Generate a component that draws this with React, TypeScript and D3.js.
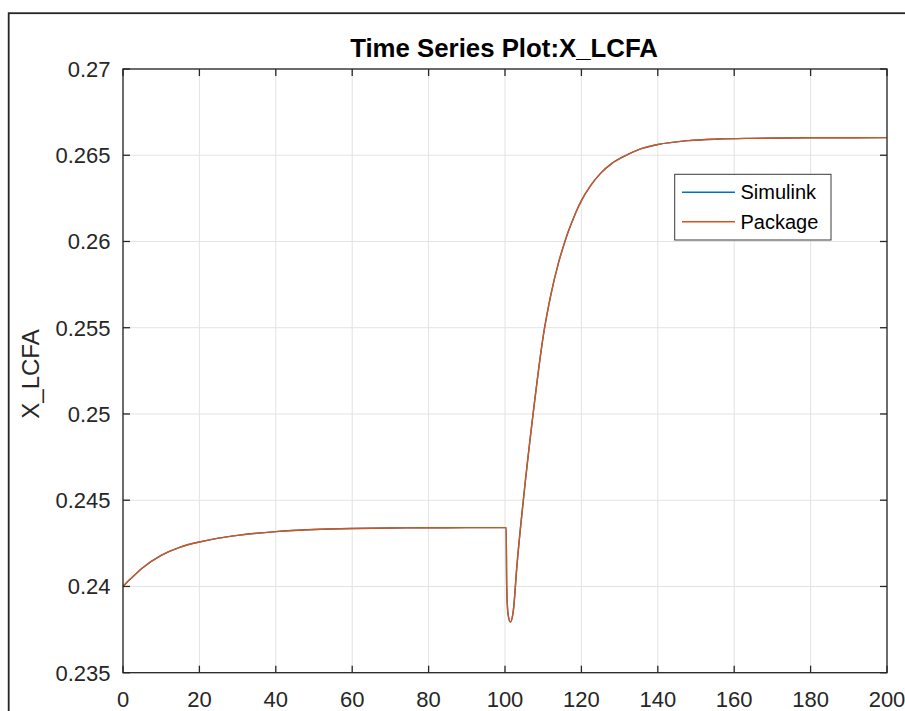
import React from "react";
import * as d3 from "d3";

// Time samples (s) and the two simulated responses of X_LCFA
const timeSeconds = [
  0, 2, 5, 10, 15, 20, 25, 30, 40, 50, 60, 70, 80, 90, 100, 100.3, 100.45, 100.8,
  101.4, 102.2, 103.1, 104.8, 107.3, 110, 112, 114, 115.4, 116.5, 118, 119, 120,
  122.5, 125, 128, 131, 135, 140, 148, 156, 164, 180, 200,
];
const simulinkValues = [
  0.24, 0.24044, 0.24106, 0.2418, 0.24228, 0.24258, 0.2428, 0.24296, 0.24318,
  0.2433, 0.24336, 0.24339, 0.2434, 0.24341, 0.24341, 0.24341, 0.24, 0.2384,
  0.23794, 0.23863, 0.24115, 0.245, 0.2499, 0.2545, 0.2569, 0.25876, 0.2598,
  0.26053, 0.26139, 0.26191, 0.26237, 0.26327, 0.26395, 0.26453, 0.26492,
  0.26533, 0.26562, 0.26585, 0.26594, 0.26598, 0.26601, 0.26602,
];
const packageValues = [
  0.24, 0.24044, 0.24106, 0.2418, 0.24228, 0.24258, 0.2428, 0.24296, 0.24318,
  0.2433, 0.24336, 0.24339, 0.2434, 0.24341, 0.24341, 0.24341, 0.24, 0.2384,
  0.23794, 0.23863, 0.24115, 0.245, 0.2499, 0.2545, 0.2569, 0.25876, 0.2598,
  0.26053, 0.26139, 0.26191, 0.26237, 0.26327, 0.26395, 0.26453, 0.26492,
  0.26533, 0.26562, 0.26585, 0.26594, 0.26598, 0.26601, 0.26602,
];

const xTicks = [0, 20, 40, 60, 80, 100, 120, 140, 160, 180, 200];
const yTicks = [0.235, 0.24, 0.245, 0.25, 0.255, 0.26, 0.265, 0.27];
const seriesNames = ["Simulink", "Package"];
const seriesColors = ["#0072BD", "#D95319"];

const W = 905;
const H = 711;
const plot = { left: 123, right: 887, top: 69, bottom: 672.7 };
const axisColor = "#262626";
const gridColor = "#e3e3e3";
const font = "'Liberation Sans', Arial, Helvetica, sans-serif";
const tickLen = 7;

export default function App() {
  const x = d3.scaleLinear().domain([0, 200]).range([plot.left, plot.right]);
  const y = d3.scaleLinear().domain([0.235, 0.27]).range([plot.bottom, plot.top]);

  const makeLine = (vals: number[]) =>
    d3
      .line<number>()
      .x((_, i) => x(timeSeconds[i]))
      .y((v) => y(v))
      .curve(d3.curveMonotoneX)(vals) as string;

  const series = [simulinkValues, packageValues];

  const legend = { x: 674.7, y: 174.3, w: 156.3, h: 65.7 };

  return (
    <svg
      width={W}
      height={H}
      style={{ position: "fixed", left: 0, top: 0, background: "#fff" }}
      fontFamily={font}
    >
      <rect x={0} y={0} width={W} height={H} fill="#fff" />
      {/* figure frame */}
      <rect x={8.7} y={13.2} width={1200} height={1200} fill="none" stroke={axisColor} strokeWidth={1.8} />

      {/* grid */}
      {xTicks.map((t) => (
        <line key={"gx" + t} x1={x(t)} x2={x(t)} y1={plot.top} y2={plot.bottom} stroke={gridColor} strokeWidth={1} />
      ))}
      {yTicks.map((t) => (
        <line key={"gy" + t} x1={plot.left} x2={plot.right} y1={y(t)} y2={y(t)} stroke={gridColor} strokeWidth={1} />
      ))}

      {/* data */}
      {series.map((vals, i) => (
        <path key={seriesNames[i]} d={makeLine(vals)} fill="none" stroke={seriesColors[i]} strokeWidth={1.4} />
      ))}

      {/* axes box and ticks */}
      <rect
        x={plot.left}
        y={plot.top}
        width={plot.right - plot.left}
        height={plot.bottom - plot.top}
        fill="none"
        stroke={axisColor}
        strokeWidth={1.3}
      />
      {xTicks.map((t) => (
        <g key={"tx" + t}>
          <line x1={x(t)} x2={x(t)} y1={plot.bottom} y2={plot.bottom - tickLen} stroke={axisColor} strokeWidth={1.3} />
          <line x1={x(t)} x2={x(t)} y1={plot.top} y2={plot.top + tickLen} stroke={axisColor} strokeWidth={1.3} />
          <text x={x(t)} y={706.5} textAnchor="middle" fontSize={22} fill={axisColor}>
            {t}
          </text>
        </g>
      ))}
      {yTicks.map((t) => (
        <g key={"ty" + t}>
          <line x1={plot.left} x2={plot.left + tickLen} y1={y(t)} y2={y(t)} stroke={axisColor} strokeWidth={1.3} />
          <line x1={plot.right} x2={plot.right - tickLen} y1={y(t)} y2={y(t)} stroke={axisColor} strokeWidth={1.3} />
          <text x={110.5} y={y(t)} dy="0.36em" textAnchor="end" fontSize={22} fill={axisColor}>
            {d3.format("")(t)}
          </text>
        </g>
      ))}

      {/* title and axis label */}
      <text x={504} y={56.5} textAnchor="middle" fontSize={25.8} fontWeight="bold" fill="#000">
        Time Series Plot:X_LCFA
      </text>
      <text
        transform={`translate(38.5, 374) rotate(-90)`}
        textAnchor="middle"
        fontSize={24}
        fill={axisColor}
      >
        X_LCFA
      </text>

      {/* legend */}
      <rect x={legend.x} y={legend.y} width={legend.w} height={legend.h} fill="#fff" stroke="#3a3a3a" strokeWidth={1} />
      {seriesNames.map((name, i) => {
        const cy = 192.2 + i * 29.5;
        return (
          <g key={"lg" + name}>
            <line x1={682} x2={735} y1={cy} y2={cy} stroke={seriesColors[i]} strokeWidth={1.4} />
            <text x={740.5} y={cy} dy="0.36em" fontSize={20} fill="#000">
              {name}
            </text>
          </g>
        );
      })}
    </svg>
  );
}
